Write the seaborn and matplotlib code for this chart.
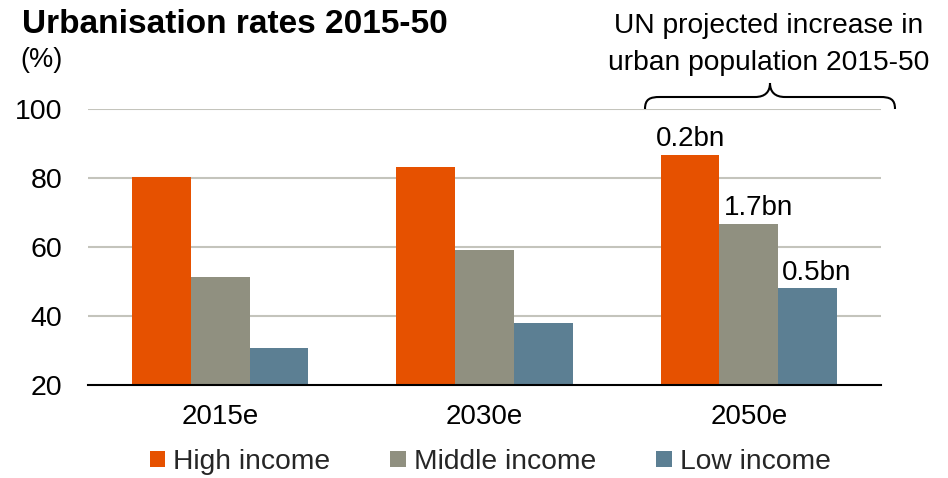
import matplotlib
matplotlib.use("Agg")
import matplotlib.pyplot as plt
from matplotlib.path import Path
from matplotlib.patches import PathPatch
from matplotlib.transforms import Affine2D
import pandas as pd
import seaborn as sns

# Urbanisation rates (%) by income group
years = ["2015e", "2030e", "2050e"]
groups = ["High income", "Middle income", "Low income"]
high_income = [80.3, 83.2, 86.6]
middle_income = [51.2, 59.0, 66.7]
low_income = [30.7, 38.1, 48.0]
# UN projected increase in urban population 2015-50
increase_labels = ["0.2bn", "1.7bn", "0.5bn"]
y_ticks = [20, 40, 60, 80, 100]

colors = ["#E65100", "#909080", "#5C7F93"]

rows = []
for g, vals in zip(groups, [high_income, middle_income, low_income]):
    for y, v in zip(years, vals):
        rows.append({"Year": y, "Income": g, "Rate": v})
df = pd.DataFrame(rows)

sns.set_theme(style="white")
plt.rcParams["font.family"] = ["Liberation Sans", "DejaVu Sans"]

W, H = 948, 478
fig = plt.figure(figsize=(W / 100, H / 100), dpi=100)
ax = fig.add_axes([88 / W, 1 - 385 / H, (881 - 88) / W, (385 - 109) / H])

sns.barplot(data=df, x="Year", y="Rate", hue="Income", hue_order=groups,
            palette=colors, width=2 / 3, gap=0, linewidth=0,
            saturation=1, ax=ax, legend=True)

ax.set_ylim(20, 100)
ax.set_xlim(-0.5, 2.5)
ax.set_yticks(y_ticks)
ax.set_yticklabels([str(t) for t in y_ticks])
ax.set_xlabel("")
ax.set_ylabel("")
ax.tick_params(axis="y", length=0, pad=18.5, labelsize=20.5, colors="black")
ax.tick_params(axis="x", length=0, pad=14, labelsize=20, colors="black")
for t in (40, 60, 80, 100):
    ax.axhline(t, color="#C4C4BC", lw=1.5, zorder=0)
for s in ("top", "right", "left"):
    ax.spines[s].set_visible(False)
ax.spines["bottom"].set_color("black")
ax.spines["bottom"].set_linewidth(1.5)
ax.set_axisbelow(True)

# Population increase labels above the 2050 bars
offsets = [(0, 6.5), (7, 6.5), (6.5, 6)]
for cont, vals, lab, off in zip(ax.containers, [high_income, middle_income, low_income],
                                increase_labels, offsets):
    bar = cont[2]
    ax.annotate(lab, (bar.get_x() + bar.get_width() / 2, vals[2]),
                xytext=off, textcoords="offset points", ha="center", va="baseline",
                fontsize=20, color="black")

# Legend below the chart
leg = ax.legend(loc="center", bbox_to_anchor=(490 / W, 1 - 462 / H),
                bbox_transform=fig.transFigure, ncol=3, frameon=False,
                fontsize=20.3, handlelength=0.55, handleheight=0.52,
                handletextpad=0.27, columnspacing=2.15, borderpad=0)

# Pixel-based transform for annotations (origin top-left)
px = Affine2D().scale(1 / W, -1 / H).translate(0, 1) + fig.transFigure

fig.text(22, 33, "Urbanisation rates 2015-50", transform=px, fontsize=24,
         fontweight="bold", va="baseline", ha="left", color="black")
fig.text(20, 67, "(%)", transform=px, fontsize=19.5, va="baseline", ha="left",
         color="black")
fig.text(769, 33, "UN projected increase in", transform=px, fontsize=20.3,
         va="baseline", ha="center", color="black")
fig.text(769, 70, "urban population 2015-50", transform=px, fontsize=20.3,
         va="baseline", ha="center", color="black")

# Curly brace spanning the 2050 group
verts = [(645, 109), (645, 99), (650, 97), (660, 97),
         (755, 97),
         (765, 97), (770, 92), (770, 83),
         (770, 92), (775, 97), (785, 97),
         (880, 97),
         (890, 97), (895, 99), (895, 109)]
codes = [Path.MOVETO, Path.CURVE4, Path.CURVE4, Path.CURVE4,
         Path.LINETO,
         Path.CURVE4, Path.CURVE4, Path.CURVE4,
         Path.CURVE4, Path.CURVE4, Path.CURVE4,
         Path.LINETO,
         Path.CURVE4, Path.CURVE4, Path.CURVE4]
brace = PathPatch(Path(verts, codes), transform=px, fill=False,
                  edgecolor="black", lw=1.5)
fig.patches.append(brace)

fig.savefig("out.png", dpi=100)
